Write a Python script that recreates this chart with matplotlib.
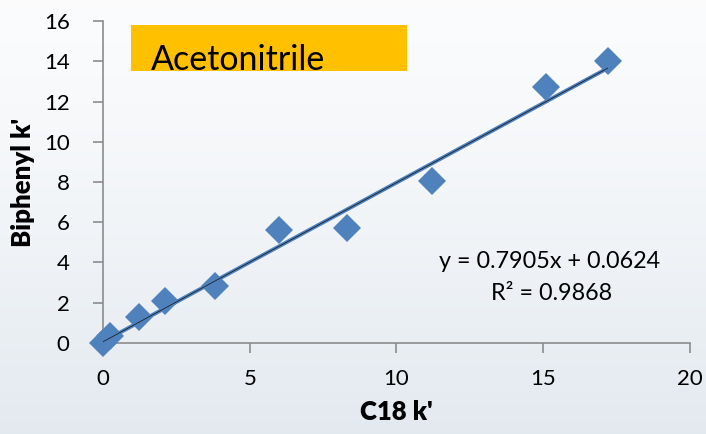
import numpy as np
import matplotlib.pyplot as plt
from matplotlib.patches import Rectangle

# Retention factors: C18 column vs biphenyl column, acetonitrile mobile phase
c18_k = [0.0, 0.25, 1.22, 2.1, 3.8, 6.0, 8.3, 11.2, 15.1, 17.2]
biphenyl_k = [0.0, 0.35, 1.29, 2.08, 2.84, 5.6, 5.7, 8.05, 12.7, 14.0]

slope = 0.7905
intercept = 0.0624
r_squared = 0.9868

x_ticks = [0, 5, 10, 15, 20]
y_ticks = [0, 2, 4, 6, 8, 10, 12, 14, 16]

plt.rcParams['font.family'] = ['Lato', 'DejaVu Sans']

fig = plt.figure(figsize=(7.06, 4.34), dpi=100)

# soft slide-style background gradient
bg = fig.add_axes([0, 0, 1, 1], zorder=-10)
grad = np.linspace(0, 1, 256).reshape(-1, 1)
top = np.array([0.985, 0.988, 0.992])
bottom = np.array([0.89, 0.915, 0.94])
img = top + (bottom - top) * grad[..., None] ** 1.3
bg.imshow(img, aspect='auto', extent=[0, 1, 0, 1], origin='upper')
bg.axis('off')

ax = fig.add_axes([0.1459, 0.2097, 0.8314, 0.7419])
ax.patch.set_alpha(0)

color = '#4F81BD'
ax.plot(c18_k, biphenyl_k, linestyle='none', marker='D', markersize=14,
        color=color, markeredgewidth=0, zorder=3, clip_on=False)

xs = np.array([0.0, max(c18_k)])
ax.plot(xs, slope * xs + intercept, color=color, lw=2.8, zorder=4,
        solid_capstyle='butt')
ax.plot(xs, slope * xs + intercept, color='#111111', lw=0.5, zorder=5)

ax.set_xlim(0, 20)
ax.set_ylim(0, 16)
ax.set_xticks(x_ticks)
ax.set_yticks(y_ticks)
for s in ['top', 'right']:
    ax.spines[s].set_visible(False)
for s in ['left', 'bottom']:
    ax.spines[s].set_color('#8c8c8c')
    ax.spines[s].set_linewidth(1.2)
ax.tick_params(axis='both', colors='#8c8c8c', length=7, width=1.2,
               labelsize=16, labelcolor='black')
ax.tick_params(axis='x', pad=12)
ax.tick_params(axis='y', pad=17)

ax.set_xlabel("C18 k'", fontsize=18.5, fontweight='heavy', labelpad=8)
ax.set_ylabel("Biphenyl k'", fontsize=18.5, fontweight='heavy', labelpad=6)

ax.text(0.761, 0.252, f"y = {slope}x + {intercept}", transform=ax.transAxes,
        ha='center', va='center', fontsize=16.8)
ax.text(0.764, 0.155, f"R² = {r_squared}", transform=ax.transAxes,
        ha='center', va='center', fontsize=16.8)

# solvent label box
fig.patches.append(Rectangle((131 / 706, 1 - 71 / 434), 276 / 706, 46 / 434,
                             transform=fig.transFigure, facecolor='#FFC000',
                             edgecolor='none', zorder=1))
fig.text(151 / 706, 1 - 70 / 434, "Acetonitrile", fontsize=24.5,
         ha='left', va='baseline', zorder=2)

fig.savefig('out.png', dpi=100)
